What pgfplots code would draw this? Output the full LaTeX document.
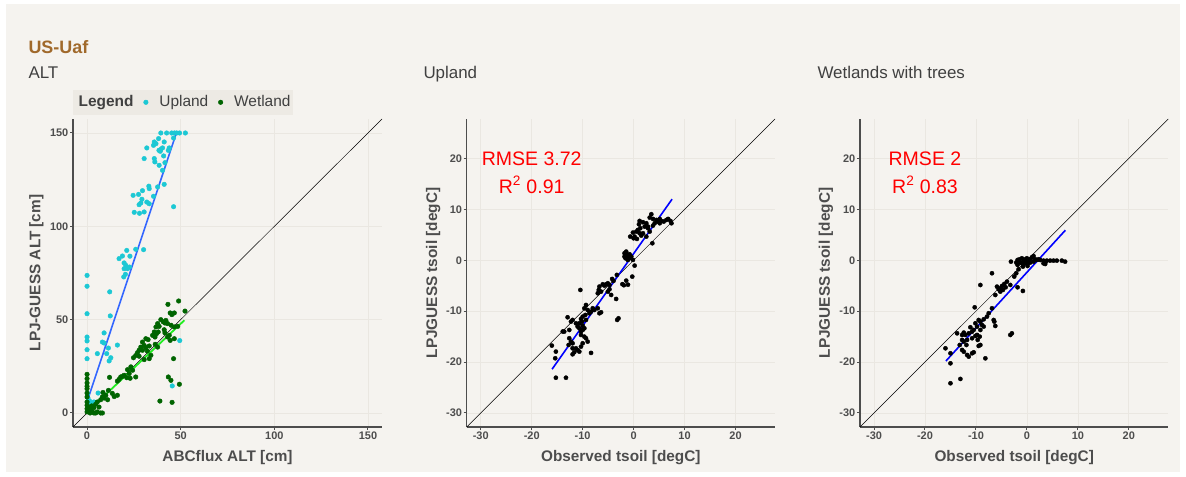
\documentclass[border=0pt]{standalone}
\usepackage{fontspec}
\setmainfont{Liberation Sans}
\usepackage{pgfplots}
\pgfplotsset{compat=1.18}
\usepackage{pgfplotstable}

\definecolor{bg}{HTML}{F5F3EF}
\definecolor{legbg}{HTML}{EDEAE4}
\definecolor{gridc}{HTML}{EAE7E1}
\definecolor{axgray}{HTML}{4D4D4D}
\definecolor{txt}{HTML}{404040}
\definecolor{ttlbrown}{HTML}{A0692B}
\definecolor{upl}{HTML}{1CC8D4}
\definecolor{wet}{HTML}{006400}
\definecolor{ggblue}{HTML}{3366FF}
\definecolor{lime}{HTML}{22EE22}

\pgfplotstableread{
x y
39.4 150
42.5 150
45.2 150
46.7 150
47.9 150
49.4 150
52.5 150
46.2 147.3
38.2 147
35.9 145.2
36.8 144.3
35.5 143.4
41.2 145.2
31.9 142
38.4 140.7
39.4 141.3
40.3 142
39.1 140.2
43.9 142
43.4 140.7
40.9 137.7
30.5 136.3
35.9 136.3
36.2 134.5
38.5 132.7
41.6 134.1
40.3 130
41.2 122.5
37.7 121.1
33.0 121.5
33.2 120.2
29.6 119.1
27.5 117.1
24.6 116.6
29.3 114.5
35.5 116.1
31.9 113
27.8 111.6
33.2 112.1
28.7 112.5
25.2 107.5
28.0 107
30.5 107.7
46.2 110.5
21.2 87.1
26.0 87.7
30.2 87.5
18.9 84.1
17.1 82.7
22.9 84
19.8 80.4
20.7 79.1
19.8 77.3
21.6 77.3
22.7 78.2
19.6 72.9
20.5 74.3
0 73.7
0 67.9
12.1 64.9
0 53.2
12.4 52
0 40.7
0 38.6
9.1 42.9
0 33.9
8.2 38
9.1 37.5
11.4 34.8
16.2 36.4
5.5 31.8
0 29.1
12.7 29.6
11.8 27.9
10.5 31.8
45.5 53.3
49.5 38.8
45.5 14.5
0.2 10.4
2.0 5.5
3.7 5.9
5.9 10.7
1.3 6.5
0.5 8
2.5 3.5
}\uplandtab

\pgfplotstableread{
x y
43.2 58.2
48.9 60
52.3 54.6
44.4 53.6
45.3 52.7
46.6 53.6
39.4 50
40.7 48.8
42.1 49.6
41.6 48.2
43.0 47.9
37.7 47.9
38.5 46.4
36.8 46.1
44.9 47
46.6 46.1
48.4 46.4
35.9 43.4
37.1 42.5
38.0 43.4
35.0 41.6
36.3 40.7
41.2 44.6
41.6 42.9
43.0 40.7
44.4 38.9
46.6 39.8
43.9 41.6
31.4 39.8
32.6 39.3
29.6 38
30.5 36.2
28.7 35.3
27.8 33.6
26.9 32.3
29.6 33.6
26.0 30.8
24.8 29.6
27.8 30.4
31.4 35
33.2 35.9
32.2 33.2
30.5 28.6
33.2 29.1
34.1 30.9
36.4 36.8
37.7 35.3
46.2 29.1
43.4 19.3
44.8 17.5
49.3 15.4
38.9 6.4
45.4 5.7
23.4 24.7
21.6 23.2
19.8 20.2
18.0 19.3
18.9 19.6
21.2 18.9
22.5 21.1
24.3 22.9
23.0 18.6
17.1 18
16.2 17.1
26.0 19.3
12.0 19.1
16.2 9.5
11.4 12.1
10.0 9.5
9.1 8
11.0 7.1
8.2 8.6
7.3 7.1
5.5 5.9
4.6 4.7
6.4 3.2
3.7 2.9
0 20.7
0 18.4
0 16.1
0 14.3
0 13
0 10.7
0 8.6
0 5.9
0 4.1
0 2.3
0 0.6
1.1 3.2
2.0 1.8
2.8 0.6
1.6 0
3.7 0
4.6 0
7.3 0
8.2 0
5.5 0.6
13.5 10.5
14.5 8.8
8.5 11
2.5 3.8
}\wetlandtab

\pgfplotstableread{
x y
3.48 9.04
3.16 8.38
3.81 8.12
4.47 7.92
5.13 8.12
5.46 7.73
5.92 7.6
6.44 7.92
6.77 8.12
7.23 7.73
7.43 7.27
5.13 7.27
4.14 7.27
2.5 7.27
1.18 7.73
1.84 7.47
2.17 6.61
1.31 6.29
0.85 5.96
2.83 6.29
3.16 5.63
1.84 5.3
1.18 5.3
0.53 5.63
-0.13 5.44
-0.66 4.65
0 4.32
0.66 4.19
0.2 4.65
1.51 4.85
2.5 4.65
3.68 3.34
2.83 6.61
3.81 6.81
4.8 7.6
1.05 7.07
-1.78 1.38
-1.45 1.7
-1.12 1.05
-0.79 1.18
-1.31 0.72
-1.58 0.39
-0.79 0.39
-0.46 0.72
-0.13 0.07
-1.12 0.07
-1.78 0.72
0.2 -1.05
-0.26 -3.21
-2.2 -4.7
-1.9 -4.9
-1.1 -4.8
-1.45 -4.0
-3.29 -2.88
-4.21 -3.67
-3.94 -4.06
-5.06 -4.52
-4.73 -4.85
-5.39 -4.72
-5.72 -4.98
-6.05 -4.72
-6.71 -5.17
-6.84 -5.83
-6.38 -6.16
-7.03 -6.48
-5.06 -6.16
-4.4 -6.81
-3.42 -7.6
-4.73 -5.7
-10.45 -5.83
-3.22 -11.72
-2.96 -11.4
-9.34 -8.78
-9.66 -9.43
-9.01 -9.76
-8.68 -10.41
-9.47 -10.74
-9.99 -11.07
-10.32 -11.53
-10.12 -12.05
-9.34 -11.72
-8.35 -10.09
-8.02 -9.43
-7.69 -9.76
-7.03 -9.43
-6.71 -10.41
-6.38 -10.22
-12.95 -11.2
-11.97 -11.72
-13.61 -14.01
-12.62 -13.69
-12.29 -12.05
-11.31 -12.38
-10.98 -13.03
-10.65 -13.36
-10.32 -14.01
-9.99 -13.69
-9.66 -13.36
-10.65 -12.38
-9.99 -12.84
-10.32 -14.67
-9.66 -15.0
-9.34 -15.32
-9.01 -15.98
-12.62 -15.32
-12.29 -15.98
-11.97 -16.31
-12.75 -16.63
-11.97 -17.29
-11.31 -17.29
-10.98 -17.62
-10.65 -17.94
-11.64 -18.07
-11.97 -18.47
-9.99 -16.31
-10.32 -16.96
-8.35 -18.2
-16.04 -16.76
-15.25 -17.94
-15.38 -19.25
-15.25 -23.07
-13.27 -23.07
-13.9 -14.0
}\uplandsoil

\pgfplotstableread{
x y
-1.83 0.06
-1.44 0.19
-0.98 0.39
-0.65 0.06
-0.33 0.19
0 0.39
0.33 0.06
0.65 0.19
0.98 0.58
1.3 0.84
1.63 0.19
1.96 0.06
2.28 0.19
2.61 0.06
3.26 -0.07
3.59 -0.46
3.91 -0.07
4.57 -0.07
5.22 -0.07
5.87 -0.07
6.85 -0.07
7.5 -0.27
-0.46 -0.27
-0.13 -0.59
-0.65 -0.73
0.33 -0.46
-0.98 -0.6
0.65 -0.46
1.3 -0.27
3.26 -0.6
3.59 -0.73
-1.3 -0.46
-1.83 -0.92
-0.78 -1.25
0.13 -1.12
-3.13 -0.27
-2.09 -0.46
-2.09 -2.55
-1.63 -1.77
-2.48 -3.2
-6.85 -2.55
-9.13 -4.86
-3.91 -4.2
-4.44 -4.65
-4.89 -5.05
-5.22 -5.5
-5.54 -5.7
-5.87 -5.18
-4.7 -5.83
-4.17 -5.31
-3.26 -4.85
-1.83 -5.31
-0.78 -6.03
-6.2 -6.82
-5.22 -6.16
-10.24 -9.24
-6.85 -9.43
-7.5 -10.41
-7.83 -11.07
-8.48 -11.6
-9.13 -12.05
-9.78 -13.03
-10.44 -13.69
-10.76 -14.02
-11.42 -14.35
-12.07 -14.67
-12.72 -14.67
-12.39 -14.21
-11.09 -13.16
-10.11 -12.38
-9.46 -11.73
-8.81 -12.71
-8.48 -13.03
-9.13 -13.69
-9.78 -14.67
-9.26 -15.0
-9.65 -15.65
-10.11 -14.87
-10.76 -15.32
-11.74 -15.65
-12.39 -15.98
-11.87 -16.64
-9.13 -16.64
-9.46 -16.83
-12.72 -15.65
-13.18 -16.64
-13.7 -14.35
-6.52 -11.73
-6.2 -12.9
-6.39 -12.05
-2.94 -14.35
-3.26 -14.67
-15.98 -17.29
-15.0 -18.27
-12.39 -17.95
-11.74 -18.6
-11.42 -18.93
-10.76 -18.27
-10.44 -18.08
-12.72 -17.62
-15.0 -20.24
-8.15 -19.26
-15.0 -24.16
-13.05 -23.31
}\wetsoil

\pgfplotsset{
 ggbase/.style={
  scale only axis, height=308bp, anchor=south west,
  clip=false,
  axis x line*=bottom, axis y line*=left,
  axis line style={-, draw=axgray, line width=1.3bp},
  tick align=outside, major tick length=3bp,
  tick style={draw=axgray, line width=1bp},
  grid=major, major grid style={draw=gridc, line width=0.7bp},
  ticklabel style={font=\fontsize{11}{13}\selectfont\bfseries, text=axgray},
  yticklabel style={inner sep=1.5bp}, xticklabel style={inner sep=1.5bp},
 },
 soil/.style={ggbase, width=308.3bp,
  xmin=-32.75, xmax=27.75, ymin=-32.75, ymax=27.75,
  xtick={-30,-20,-10,0,10,20}, xticklabels={-30,-20,-10,0,10,20},
  ytick={-30,-20,-10,0,10,20}, yticklabels={-30,-20,-10,0,10,20}},
}
\newcommand{\axlab}{\fontsize{15.4}{18}\selectfont\bfseries}
\newcommand{\redfont}{\fontsize{19.6}{22}\selectfont}

\begin{document}
\begin{tikzpicture}
\fill[white] (0,0) rectangle (1186bp,477bp);
\fill[bg] (6bp,5bp) rectangle (1180bp,473bp);

\node[anchor=base west, inner sep=0, font=\fontsize{18}{20}\selectfont\bfseries, text=ttlbrown] at (28.3bp,423bp) {US-Uaf};
\node[anchor=base west, inner sep=0, font=\fontsize{17}{20}\selectfont, text=txt] at (28.3bp,398.7bp) {ALT};
\node[anchor=base west, inner sep=0, font=\fontsize{17}{20}\selectfont, text=txt] at (423.3bp,398.7bp) {Upland};
\node[anchor=base west, inner sep=0, font=\fontsize{17}{20}\selectfont, text=txt] at (817.3bp,398.7bp) {Wetlands with trees};

% Panel 1
\begin{axis}[ggbase, at={(73bp,50bp)}, width=309bp,
  xmin=-7.5, xmax=157.5, ymin=-7.5, ymax=157.5,
  xtick={0,50,100,150}, xticklabels={0,50,100,150},
  ytick={0,50,100,150}, yticklabels={0,50,100,150},
  legend columns=-1,
  legend style={at={(0,1)}, anchor=south west, yshift=4bp, fill=legbg, draw=none,
    inner xsep=0bp, inner ysep=3bp, font=\fontsize{15.5}{18}\selectfont, text=txt,
    /tikz/every even column/.append style={column sep=2.3bp},
    /tikz/every odd column/.append style={column sep=3.5bp},
    nodes={inner xsep=2bp, inner ysep=2bp, text height=11.5bp, text depth=3.5bp}},
  legend image code/.code={\path[draw=none, fill=none] (0bp,-2bp) rectangle (16bp,2bp);
    \draw[mark repeat=2, mark phase=2, #1] plot coordinates {(0bp,0bp) (8bp,0bp) (16bp,0bp)};},
]
\addlegendimage{empty legend}
\addlegendentry{\textbf{Legend}}
\addplot[only marks, mark=*, mark size=2.3bp, color=upl] table {\uplandtab};
\addlegendentry{Upland}
\addplot[only marks, mark=*, mark size=2.3bp, color=wet] table {\wetlandtab};
\addlegendentry{Wetland}
\addplot[forget plot, black, line width=0.5bp] coordinates {(-7.5,-7.5) (157.5,157.5)};
\addplot[forget plot, ggblue, line width=1.6bp] coordinates {(0,6) (47.7,150)};
\addplot[forget plot, lime, line width=1.8bp] coordinates {(0,0.5) (52,49.7)};
\end{axis}
\node[anchor=base, font=\axlab, text=axgray] at (227.5bp,16bp) {ABCflux ALT [cm]};
\node[rotate=90, font=\axlab, text=axgray] at (36.5bp,204bp) {LPJ-GUESS ALT [cm]};

% Panel 2
\begin{axis}[soil, at={(466.7bp,50bp)}]
\addplot[only marks, mark=*, mark size=2.1bp, color=black] table {\uplandsoil};
\addplot[black, line width=0.5bp] coordinates {(-32.75,-32.75) (27.75,27.75)};
\addplot[blue, line width=1.6bp] coordinates {(-16,-21.4) (7.55,12)};
\node[anchor=base, font=\redfont, text=red] at (axis cs:-20,18.6) {RMSE 3.72};
\node[anchor=base, font=\redfont, text=red] at (axis cs:-20,13.2) {R\textsuperscript{2} 0.91};
\end{axis}
\node[anchor=base, font=\axlab, text=axgray] at (620.8bp,16bp) {Observed tsoil [degC]};
\node[rotate=90, font=\axlab, text=axgray] at (433.3bp,204bp) {LPJGUESS tsoil [degC]};

% Panel 3
\begin{axis}[soil, at={(860bp,50bp)}]
\addplot[only marks, mark=*, mark size=2.1bp, color=black] table {\wetsoil};
\addplot[black, line width=0.5bp] coordinates {(-32.75,-32.75) (27.75,27.75)};
\addplot[blue, line width=1.6bp] coordinates {(-15.9,-19.8) (7.55,5.9)};
\node[anchor=base, font=\redfont, text=red] at (axis cs:-20,18.6) {RMSE 2};
\node[anchor=base, font=\redfont, text=red] at (axis cs:-20,13.2) {R\textsuperscript{2} 0.83};
\end{axis}
\node[anchor=base, font=\axlab, text=axgray] at (1014.2bp,16bp) {Observed tsoil [degC]};
\node[rotate=90, font=\axlab, text=axgray] at (826bp,204bp) {LPJGUESS tsoil [degC]};

\pgfresetboundingbox
\path[use as bounding box] (0,0) rectangle (1186bp,477bp);
\end{tikzpicture}
\end{document}
